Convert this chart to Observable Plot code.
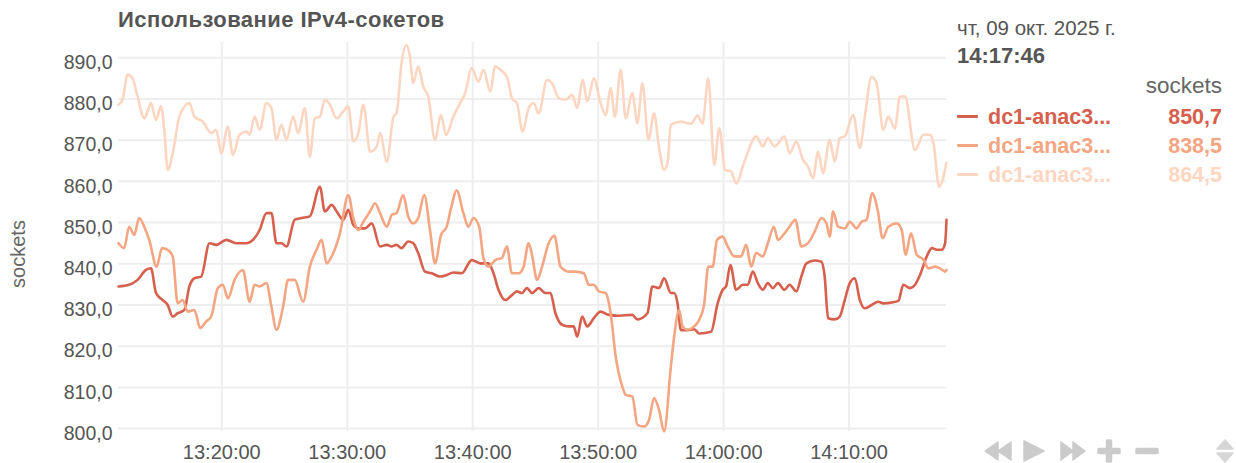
<!DOCTYPE html>
<html><head><meta charset="utf-8">
<script src="https://cdn.jsdelivr.net/npm/d3@7"></script>
<script src="https://cdn.jsdelivr.net/npm/@observablehq/plot@0.6"></script>
<style>
body{margin:0;background:#fff;font-family:'Liberation Sans',Arial,sans-serif;}
#wrap{position:relative;width:1236px;height:463px;overflow:hidden}
#chart{position:absolute;left:0;top:0}
#title{position:absolute;left:118px;top:9px;font-weight:bold;font-size:22px;line-height:22px;letter-spacing:0.45px;color:#555;white-space:nowrap}
#ylab{position:absolute;left:18px;top:254px;font-size:20px;line-height:20px;color:#666;transform:translate(-50%,-50%) rotate(-90deg);white-space:nowrap}
#date{position:absolute;left:957px;top:17px;font-size:20.5px;line-height:22px;color:#555;white-space:nowrap}
#time{position:absolute;left:957px;top:45px;font-size:22px;line-height:22px;font-weight:bold;color:#555}
#unit{position:absolute;right:14px;top:75px;font-size:22.5px;line-height:22px;color:#666}
.row{position:absolute;left:957px;width:265px;height:22px;font-size:21.5px;line-height:22px;font-weight:bold;white-space:nowrap}
.row .sw{position:absolute;left:0;top:9px;width:21px;height:3px;border-radius:1px}
.row .nm{position:absolute;left:31px;top:0}
.row .vl{position:absolute;right:0;top:0}
#icons{position:absolute;left:980px;top:438px}
#icons path,#icons rect{fill:#cbcbcb;stroke:#cbcbcb;stroke-width:1.5;stroke-linejoin:round}
#icons .ud{fill:#d6d6d6;stroke:#d6d6d6}
</style></head><body>
<div id="wrap">
  <div id="chart"></div>
  <div id="title"></div>
  <div id="ylab"></div>
  <div id="date"></div>
  <div id="time"></div>
  <div id="unit"></div>
  <div id="legend"></div>
  <svg id="icons" width="256" height="25" viewBox="0 0 256 25">
    <path d="M5,13L18,4V22Z M18,13L31,4V22Z"/>
    <path d="M44,3L64,13L44,23Z"/>
    <path d="M81,4L93,13L81,22Z M93,4L105,13L93,22Z"/>
    <rect x="118" y="10.5" width="22" height="5" rx="1"/>
    <rect x="126.5" y="2" width="5" height="22" rx="1"/>
    <rect x="156" y="10.5" width="22" height="5" rx="1"/>
    <path class="ud" d="M237,11L245,2L253,11Z M237,15L245,24L253,15Z"/>
  </svg>
</div>
<script>
// ---- data ----
const title = "Использование IPv4-сокетов";
const unitLabel = "sockets";
const dateLabel = "чт, 09 окт. 2025 г.";
const startTime = "2025-10-09T13:11:46Z";
const durationMinutes = 66;
const seriesNames = ["dc1-anac3-1", "dc1-anac3-2", "dc1-anac3-3"];
const legendLabels = ["dc1-anac3...", "dc1-anac3...", "dc1-anac3..."];
const seriesColors = ["#d6604d", "#f4a582", "#fdd6c2"];
const yTicks = [800, 810, 820, 830, 840, 850, 860, 870, 880, 890];
const xTickLabels = ["13:20:00", "13:30:00", "13:40:00", "13:50:00", "14:00:00", "14:10:00"];
const yDomain = [799.3, 893.7];

// [minutes since start, sockets]
const seriesA = [[0,834.5],[0.85,834.9],[1.52,836.1],[2.19,838.5],[2.59,838.9],[2.99,832.9],[3.52,831.2],[3.92,830.0],[4.32,827.2],[4.72,828.0],[5.25,828.8],[5.65,834.5],[6.05,836.5],[6.59,836.9],[7.25,845.0],[7.79,844.6],[8.59,845.8],[9.39,845.0],[10.19,845.0],[10.72,845.8],[11.25,848.2],[11.79,852.3],[12.19,852.3],[12.59,845.0],[12.99,845.0],[13.39,844.2],[14.05,850.7],[14.59,851.1],[15.25,851.5],[16.05,858.7],[16.45,852.7],[16.99,854.3],[17.39,852.7],[17.92,850.7],[18.32,853.1],[18.72,849.4],[19.12,848.6],[19.65,848.6],[20.19,849.8],[20.85,844.2],[21.39,844.6],[21.76,844.2],[22.16,844.6],[22.56,843.8],[23.09,845.4],[23.49,845.0],[23.89,842.6],[24.43,838.1],[24.96,837.7],[25.63,836.9],[26.16,837.3],[26.69,837.9],[27.36,837.7],[28.16,840.9],[28.83,840.1],[29.49,840.1],[29.89,837.7],[30.29,833.7],[30.83,831.2],[31.36,832.4],[31.76,833.3],[32.16,832.9],[32.56,834.1],[32.96,832.9],[33.49,834.1],[34.03,832.9],[34.43,832.9],[34.83,828.0],[35.36,825.2],[35.89,824.8],[36.29,824.8],[36.56,822.3],[36.96,827.2],[37.36,824.8],[37.89,826.8],[38.43,828.4],[39.09,827.6],[39.89,827.4],[40.96,827.6],[41.36,826.5],[42.16,828.0],[42.56,834.5],[43.09,834.1],[43.49,836.5],[44.03,832.9],[44.29,832.9],[44.56,830.4],[44.83,823.9],[45.36,823.9],[45.89,824.1],[46.29,823.1],[47.23,823.5],[47.76,830.4],[48.16,833.7],[48.43,834.5],[48.77,839.7],[49.23,833.7],[49.76,834.9],[50.16,834.9],[50.56,838.1],[50.96,835.3],[51.36,833.7],[51.76,835.3],[52.16,834.1],[52.56,835.3],[53.09,833.7],[53.49,834.9],[54.03,833.3],[54.43,836.9],[54.83,840.1],[55.49,840.8],[56.03,840.5],[56.29,836.9],[56.56,826.8],[57.09,826.5],[57.49,827.2],[57.89,831.2],[58.29,835.3],[58.69,836.5],[59.09,831.2],[59.49,829.2],[60.03,830.0],[60.56,830.8],[60.96,830.4],[61.63,830.6],[62.16,831.0],[62.56,834.9],[63.09,834.1],[63.49,834.9],[63.89,837.3],[64.43,841.8],[64.83,843.8],[65.23,843.4],[65.63,843.4],[65.89,845.0],[66,850.7]];
const seriesB = [[0,845.0],[0.45,843.8],[0.85,849.0],[1.25,847.0],[1.65,851.1],[2.05,849.0],[2.45,845.8],[3.04,839.3],[3.47,843.8],[3.92,843.4],[4.32,841.8],[4.72,830.4],[5.12,831.2],[5.52,828.4],[6.05,828.8],[6.51,824.4],[6.99,826.0],[7.39,827.2],[7.92,834.1],[8.32,834.9],[8.72,831.6],[9.25,836.1],[9.92,838.5],[10.45,830.8],[10.85,834.9],[11.25,834.5],[11.79,835.3],[12.19,829.6],[12.59,824.0],[13.12,829.6],[13.52,836.1],[14.05,836.1],[14.72,830.8],[15.25,839.3],[15.79,843.4],[16.19,845.8],[16.59,840.1],[17.12,842.6],[17.65,847.4],[18.32,856.7],[18.72,851.1],[19.12,848.2],[19.52,850.2],[20.05,852.7],[20.45,854.7],[20.85,852.3],[21.39,849.0],[21.79,851.9],[22.16,852.3],[22.69,856.7],[23.09,851.5],[23.49,849.8],[23.89,851.1],[24.37,856.7],[24.83,848.2],[25.23,840.1],[25.71,847.0],[26.16,849.0],[26.51,853.5],[26.96,857.8],[27.49,852.3],[27.89,849.0],[28.29,851.1],[28.75,849.0],[29.09,841.4],[29.49,839.3],[30.03,840.9],[30.56,841.4],[30.96,844.2],[31.36,837.7],[31.89,837.7],[32.29,839.3],[32.69,845.0],[32.96,842.2],[33.36,836.1],[33.76,839.3],[34.29,845.0],[34.75,846.8],[35.23,839.3],[35.89,838.1],[36.43,838.1],[37.09,837.7],[37.49,834.9],[37.89,834.9],[38.29,833.3],[38.83,832.9],[39.23,828.0],[39.63,817.5],[40.16,810.2],[40.43,808.2],[40.96,807.8],[41.36,800.9],[41.89,800.5],[42.29,802.1],[42.69,807.4],[43.09,804.5],[43.49,799.3],[44.03,815.1],[44.29,822.3],[44.69,828.8],[44.96,824.8],[45.36,824.0],[45.89,824.8],[46.29,826.4],[46.69,830.4],[47.01,839.3],[47.36,839.3],[47.71,845.8],[48.16,846.6],[48.56,844.2],[49.09,841.8],[49.63,841.8],[50.03,844.6],[50.43,839.3],[50.83,842.6],[51.36,841.8],[51.76,845.0],[52.24,849.0],[52.56,845.8],[53.09,847.4],[53.49,849.0],[53.95,850.7],[54.43,844.2],[54.96,845.0],[55.49,847.8],[56.03,851.1],[56.43,849.8],[56.69,846.6],[56.96,852.7],[57.36,849.0],[57.89,848.6],[58.29,850.2],[58.83,848.6],[59.23,850.2],[59.63,850.7],[60.08,857.1],[60.51,853.1],[60.91,846.2],[61.36,849.0],[62.03,849.8],[62.43,848.2],[62.75,842.2],[63.17,847.4],[63.63,842.2],[64.16,841.0],[64.56,838.9],[65.09,839.3],[65.49,838.9],[65.89,838.1],[66,838.5]];
const seriesC = [[0,878.6],[0.32,879.8],[0.72,885.9],[1.12,885.0],[1.52,880.6],[2.05,875.3],[2.32,877.0],[2.59,879.0],[2.99,874.9],[3.39,878.2],[3.65,872.5],[3.92,862.8],[4.32,866.8],[4.85,875.7],[5.65,879.0],[6.05,875.7],[6.72,874.5],[7.39,871.7],[7.79,872.5],[8.19,866.8],[8.72,873.3],[9.12,866.4],[9.65,871.3],[10.19,872.1],[10.45,871.3],[10.85,875.7],[11.25,872.5],[11.79,879.0],[12.19,877.8],[12.59,870.1],[12.99,873.7],[13.39,870.1],[13.92,875.7],[14.32,871.7],[14.85,877.8],[15.25,866.0],[15.65,875.3],[16.05,875.7],[16.45,879.8],[16.85,878.6],[17.39,875.3],[17.92,877.0],[18.32,878.2],[18.72,869.7],[19.12,871.7],[19.52,878.6],[20.05,867.2],[20.59,868.5],[20.85,871.7],[21.39,864.8],[21.92,875.7],[22.16,876.5],[22.56,888.7],[22.96,893.1],[23.23,890.3],[23.49,883.8],[23.89,887.9],[24.29,883.0],[24.69,880.6],[25.23,870.1],[25.71,876.1],[26.11,871.3],[26.69,875.7],[27.23,879.0],[27.63,881.4],[28.16,887.5],[28.69,884.2],[29.09,887.1],[29.63,881.8],[30.03,887.9],[30.43,887.1],[30.96,885.4],[31.36,880.2],[31.76,879.0],[32.21,872.1],[32.69,877.8],[33.09,879.0],[33.49,876.5],[34.16,884.6],[34.56,883.8],[35.09,880.2],[35.63,879.8],[36.16,881.0],[36.56,877.8],[37.01,884.6],[37.36,879.4],[37.89,885.0],[38.43,879.0],[38.83,876.1],[39.23,882.6],[39.57,875.7],[40.03,887.1],[40.43,875.3],[40.96,881.4],[41.36,874.1],[41.76,883.8],[42.24,870.1],[42.69,876.5],[43.09,868.1],[43.49,862.8],[43.76,864.4],[44.03,873.7],[44.83,874.5],[45.63,874.0],[46.16,876.0],[46.56,874.0],[47.01,885.0],[47.49,864.0],[47.89,872.9],[48.35,862.8],[48.83,862.4],[49.23,859.5],[49.89,864.8],[50.83,870.9],[51.36,868.5],[51.76,870.5],[52.29,868.5],[53.09,870.9],[53.49,866.8],[54.03,869.7],[54.56,865.2],[54.96,863.6],[55.36,860.8],[55.76,867.2],[56.16,862.0],[56.69,870.1],[57.09,864.8],[57.49,870.5],[57.89,870.9],[58.56,876.1],[59.09,868.1],[59.49,875.7],[60.03,885.4],[60.43,883.8],[60.96,872.5],[61.36,875.7],[61.89,872.9],[62.29,880.6],[62.69,880.6],[63.49,867.6],[64.16,871.3],[64.69,871.3],[64.96,869.3],[65.41,858.7],[66,864.5]];

// ---- build ----
const t0 = new Date(startTime).getTime();
const toDate = m => new Date(t0 + m * 60000);
const allSeries = [seriesA, seriesB, seriesC];
const rows = allSeries.flatMap((s, i) => s.map(([m, v]) => ({time: toDate(m), value: v, host: seriesNames[i]})));
const dayStr = startTime.slice(0, 10);
const xTicks = xTickLabels.map(s => new Date(`${dayStr}T${s}Z`));
const fmtNum = d => d.toFixed(1).replace(".", ",");
const endDate = toDate(durationMinutes);

const chart = Plot.plot({
  width: 950,
  height: 463,
  marginLeft: 118,
  marginRight: 4,
  marginTop: 42,
  marginBottom: 32,
  style: {fontFamily: "'Liberation Sans', Arial, sans-serif", fontSize: "19px", color: "#555", background: "transparent", overflow: "visible"},
  x: {type: "utc", domain: [toDate(0), endDate]},
  y: {domain: yDomain},
  color: {domain: seriesNames, range: seriesColors},
  marks: [
    Plot.gridY(yTicks, {stroke: "#eeeeee", strokeOpacity: 1, strokeWidth: 2}),
    Plot.gridX(xTicks, {stroke: "#eeeeee", strokeOpacity: 1, strokeWidth: 2}),
    Plot.axisY(yTicks, {tickSize: 0, tickPadding: 6, dy: 5, tickFormat: fmtNum, label: null, fill: "#555", fontSize: 19.5}),
    Plot.axisX(xTicks, {tickSize: 0, tickPadding: 13, tickFormat: d3.utcFormat("%H:%M:%S"), label: null, fill: "#555", fontSize: 20}),
    Plot.lineY(rows, {x: "time", y: "value", z: "host", stroke: "host", strokeWidth: 2.6, curve: "monotone-x"})
  ]
});
document.getElementById("chart").appendChild(chart);

document.getElementById("title").textContent = title;
document.getElementById("ylab").textContent = unitLabel;
document.getElementById("date").textContent = dateLabel;
document.getElementById("time").textContent = d3.utcFormat("%H:%M:%S")(endDate);
document.getElementById("unit").textContent = unitLabel;
const legend = document.getElementById("legend");
const rowTops = [106, 135, 164];
allSeries.forEach((s, i) => {
  const r = document.createElement("div");
  r.className = "row";
  r.style.top = rowTops[i] + "px";
  r.style.color = seriesColors[i];
  r.innerHTML = `<span class="sw" style="background:${seriesColors[i]}"></span><span class="nm"></span><span class="vl"></span>`;
  r.querySelector(".nm").textContent = legendLabels[i];
  r.querySelector(".vl").textContent = fmtNum(s[s.length - 1][1]);
  legend.appendChild(r);
});
</script>
</body></html>
